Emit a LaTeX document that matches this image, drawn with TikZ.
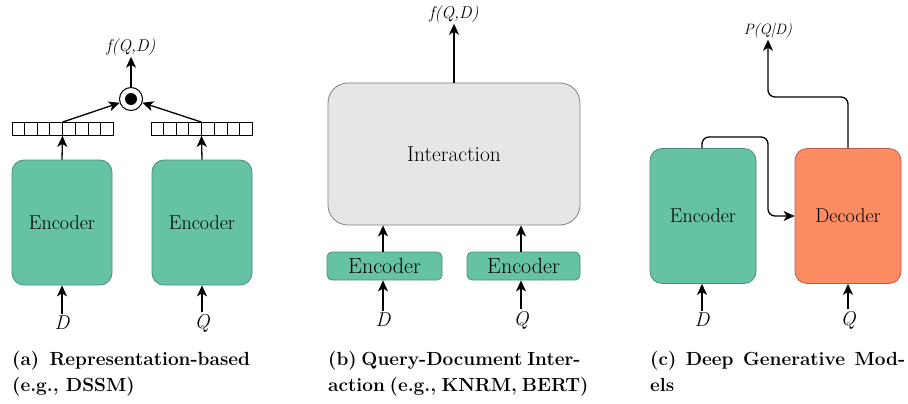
\documentclass[tikz,border=0pt]{standalone}
\usepackage{fontspec}
\usetikzlibrary{arrows.meta,calc}
\definecolor{encfill}{HTML}{66C2A5}
\definecolor{encdraw}{HTML}{4A8F78}
\definecolor{decfill}{HTML}{FC8D62}
\definecolor{decdraw}{HTML}{C0584A}
\definecolor{intfill}{HTML}{E6E6E6}
\definecolor{intdraw}{HTML}{808080}
\tikzset{
  arr/.style={line width=1.3pt,-{Stealth[length=11pt,width=10pt,inset=3pt]}},
  encbox/.style={draw=encdraw,fill=encfill,line width=0.8pt,rounded corners=12pt,
    font=\fontsize{20}{22}\selectfont,inner sep=0pt},
  decbox/.style={draw=decdraw,fill=decfill,line width=0.8pt,rounded corners=12pt,
    font=\fontsize{20}{22}\selectfont,inner sep=0pt},
  intbox/.style={draw=intdraw,fill=intfill,line width=0.8pt,rounded corners=20pt,
    font=\fontsize{21.5}{24}\selectfont,inner sep=0pt},
  vecbox/.style={draw,line width=0.8pt,minimum width=101pt,minimum height=13pt,inner sep=0pt},
  varlbl/.style={font=\fontsize{20}{22}\selectfont\itshape,inner sep=1pt},
  outlbl/.style={font=\fontsize{17}{18}\selectfont\itshape,inner sep=1pt},
  captext/.style={font=\fontsize{19}{26}\selectfont\bfseries,inner sep=0pt,anchor=base west},
}
\begin{document}
\begin{tikzpicture}[x=1pt,y=-1pt]
\useasboundingbox (0,0) rectangle (908,404);
% ---------- (a)
\node[encbox,minimum width=100pt,minimum height=125pt] (encA1) at (62,222.5) {Encoder};
\node[encbox,minimum width=100pt,minimum height=125pt] (encA2) at (202,222.5) {Encoder};
\node[vecbox] (vecA1) at (62.5,129) {};
\node[vecbox] (vecA2) at (201.5,129) {};
\foreach \v in {vecA1,vecA2}{
  \foreach \i in {1,...,7}{
    \draw[line width=0.8pt] ($(\v.south west)!\i/8!(\v.south east)$) -- ($(\v.north west)!\i/8!(\v.north east)$);
  }
}
\node[draw,circle,line width=1pt,minimum size=23pt,inner sep=0pt] (dot) at (131,99) {};
\fill (dot.center) circle (6pt);
\node[outlbl] (fA) at (131,47) {f(Q,D)};
\draw[arr] (dot.north) -- (fA.south);
\draw[arr] (vecA1.north) -- (dot);
\draw[arr] (vecA2.north) -- (dot);
\draw[arr] (encA1.north) -- (vecA1.south);
\draw[arr] (encA2.north) -- (vecA2.south);
\node[varlbl] (DA) at (62,323) {D};
\node[varlbl] (QA) at (202,323) {Q};
\draw[arr] ($(DA.north)+(0,-1)$) -- (encA1.south);
\draw[arr] ($(QA.north)+(0,-1)$) -- (encA2.south);
% ---------- (b)
\node[intbox,minimum width=252pt,minimum height=142pt] (intB) at (454,154) {Interaction};
\node[encbox,rounded corners=5pt,font=\fontsize{22}{24}\selectfont,minimum width=115pt,minimum height=28pt] (encB1) at (384.5,266) {Encoder};
\node[encbox,rounded corners=5pt,font=\fontsize{22}{24}\selectfont,minimum width=113pt,minimum height=28pt] (encB2) at (523.5,266) {Encoder};
\node[outlbl] (fB) at (454,14) {f(Q,D)};
\draw[arr] (intB.north) -- (fB.south);
\draw[arr] (encB1.north -| 383,0) -- (intB.south -| 383,0);
\draw[arr] (encB2.north -| 521,0) -- (intB.south -| 521,0);
\node[varlbl] (DB) at (383,320) {D};
\node[varlbl] (QB) at (521,320) {Q};
\draw[arr] ($(DB.north)+(0,-1)$) -- (encB1.south -| 383,0);
\draw[arr] ($(QB.north)+(0,-1)$) -- (encB2.south -| 521,0);
% ---------- (c)
\node[encbox,minimum width=106pt,minimum height=135pt] (encC) at (703,216) {Encoder};
\node[decbox,minimum width=106pt,minimum height=135pt] (decC) at (848,216) {Decoder};
\node[outlbl,font=\fontsize{15}{16}\selectfont\itshape] (pC) at (768,31) {P(Q|D)};
\coordinate (c1) at (768,137);
\coordinate (c2) at (768,97);
\draw[arr,rounded corners=7pt] (encC.north -| 702,0) |- (c1) |- (decC.west);
\draw[arr,rounded corners=7pt] (decC.north) |- (c2) -- (pC.south);
\node[varlbl] (DC) at (702,320) {D};
\node[varlbl] (QC) at (848,320) {Q};
\draw[arr] ($(DC.north)+(0,-1)$) -- (encC.south -| 702,0);
\draw[arr] ($(QC.north)+(0,-1)$) -- (decC.south);
% ---------- captions
\node[captext] (capA1) at (12,365) {(a)\, Representation-based};
\node[captext] (capA2) at (12,391) {(e.g., DSSM)};
\node[captext] (capB1) at (328,365) {\makebox[252pt][s]{(b) Query-Document Inter-}};
\node[captext] (capB2) at (328,391) {\makebox[252pt][s]{action (e.g., KNRM, BERT)}};
\node[captext] (capC1) at (650,365) {\makebox[255pt][s]{(c) Deep Generative Mod-}};
\node[captext] (capC2) at (650,391) {els};
\end{tikzpicture}
\end{document}
